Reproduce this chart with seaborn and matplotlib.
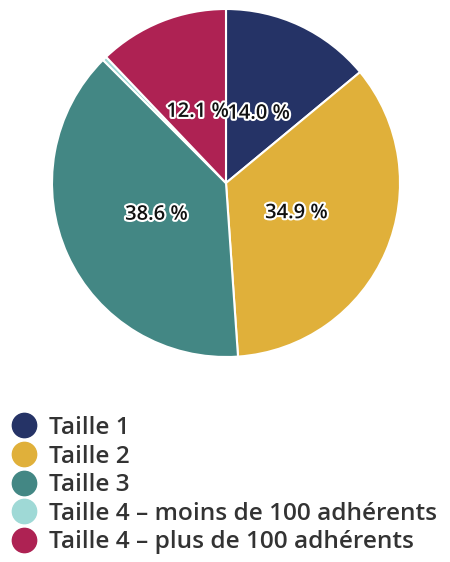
import matplotlib
matplotlib.use("Agg")
import matplotlib.pyplot as plt
import matplotlib.patheffects as pe
from matplotlib.lines import Line2D
import seaborn as sns

categories = ["Taille 1", "Taille 2", "Taille 3",
              "Taille 4 – moins de 100 adhérents",
              "Taille 4 – plus de 100 adhérents"]
values = [14.0, 34.9, 38.6, 0.4, 12.1]
colors = ["#253366", "#E0B03A", "#438784", "#9FD9D6", "#AE2253"]

sns.set_theme(style="white")
plt.rcParams['font.family'] = ['Open Sans', 'DejaVu Sans']
palette = sns.color_palette(colors)

fig = plt.figure(figsize=(4.5, 5.62), dpi=100)
ax = fig.add_axes([52/450, 1 - 357/562, 348/450, 348/562])

wedges, texts, autotexts = ax.pie(
    values, colors=palette, startangle=90, counterclock=False,
    radius=1, pctdistance=0.44,
    autopct=lambda p: f"{p:.1f} %" if p >= 1 else "",
    wedgeprops=dict(edgecolor="white", linewidth=1.5),
    textprops=dict(fontsize=14.5, color="#111111", fontweight="semibold"))
for t in autotexts:
    t.set_path_effects([pe.withStroke(linewidth=3, foreground="white")])
ax.set_xlim(-1.0, 1.0)
ax.set_ylim(-1.0, 1.0)
ax.set_aspect("equal")
ax.axis("off")

handles = [Line2D([0], [0], marker="o", linestyle="none", markersize=17.5,
                  markerfacecolor=c, markeredgecolor=c) for c in palette]
fig.legend(handles, categories, loc="upper left",
           bbox_to_anchor=(3/450, 1 - 411/562), frameon=False,
           prop=dict(size=17.6, weight="semibold"),
           labelspacing=0.19, handletextpad=0.4,
           handlelength=1.3, borderaxespad=0, borderpad=0.2,
           labelcolor="#333333")

fig.savefig("out.png", dpi=100)
